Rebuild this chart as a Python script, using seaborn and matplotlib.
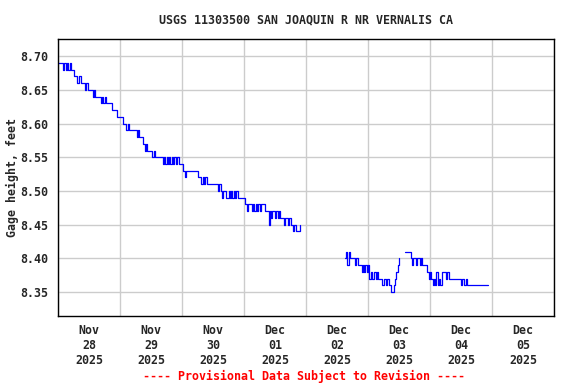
import pandas as pd
import matplotlib
matplotlib.use("Agg")
import matplotlib.pyplot as plt
import matplotlib.dates as mdates
import seaborn as sns

# --- Daten (Gage height in hundredths above 8.00 ft, 30-min steps) ---
title = "USGS 11303500 SAN JOAQUIN R NR VERNALIS CA"
note = "---- Provisional Data Subject to Revision ----"

seg1_start = "2025-11-28 00:00"
seg1_vals = [69, 69, 69, 69,
             68, 69, 68, 69, 68, 69,
             68, 68,
             67, 67, 67, 66, 67, 67, 66,
             66, 66, 65, 66,
             65, 65, 65, 65, 64, 65, 64,
             64, 64, 64, 63, 64, 63, 64, 63,
             63, 63, 63, 63,
             62, 62, 62, 62,
             61, 61, 61, 61, 60,
             60, 60, 59, 60, 59,
             59, 59, 59, 59, 59,
             58, 59, 58, 58, 58,
             57, 56, 57,
             56, 56, 56,
             56, 55, 56, 55, 55, 55, 55, 55,
             55, 54, 55, 54, 55, 54, 55, 54, 55, 54, 55, 54, 55, 55,
             54, 54, 54,
             53, 52, 53, 53,
             53, 53, 53, 53, 53, 53, 53,
             52, 52, 52, 51, 52, 51, 52, 51, 51, 51,
             51, 51, 51, 51, 51, 51,
             50, 51, 50, 49, 50, 50, 49,
             49, 50, 49, 50, 49, 50, 49, 50, 49, 49,
             49, 49, 49, 49,
             48, 47, 48, 48, 48,
             47, 48, 47, 48, 47, 48, 47, 48,
             48, 48,
             47, 47, 47, 45,
             47, 46, 47, 47, 46, 47, 46, 47, 46,
             46, 46, 45, 46, 46, 45, 46,
             45, 45,
             44, 45, 44, 44, 44,
             45]

seg2_start = "2025-12-02 15:00"
seg2_vals = [40, 41, 39, 41, 40,
             40, 40, 40,
             39, 40, 39,
             39, 39,
             38, 39, 38,
             39, 38, 39,
             37, 38, 37, 37,
             38, 37, 38, 37,
             37, 37, 36, 37, 37,
             36, 37, 36,
             36, 35, 35, 36,
             37, 38, 39, 40]

seg3_start = "2025-12-03 14:30"
seg3_vals = [41, 41, 41, 41,
             40, 39, 40,
             40, 39, 40, 40, 39, 40,
             39, 39, 39, 39,
             38, 37, 38, 37,
             36, 37, 36, 38, 36, 37, 36, 38,
             38, 38, 37, 38, 38,
             37, 37, 37, 37, 37, 37, 37, 37, 37,
             36, 37, 36, 36,
             37,
             36, 36, 36, 36, 36, 36, 36, 36, 36, 36, 36, 36, 36, 36, 36, 36, 36]

y_ticks = [8.35, 8.40, 8.45, 8.50, 8.55, 8.60, 8.65, 8.70]

# --- Tabelle aufbauen ---
parts = []
for n, (start, vals) in enumerate([(seg1_start, seg1_vals),
                                   (seg2_start, seg2_vals),
                                   (seg3_start, seg3_vals)]):
    t = pd.date_range(start, periods=len(vals), freq="30min")
    parts.append(pd.DataFrame({"time": t,
                               "gage": [8 + v / 100 for v in vals],
                               "piece": n}))
df = pd.concat(parts, ignore_index=True)

# --- Diagramm ---
sns.set_style("white")
plt.rcParams["font.family"] = ["DejaVu Sans Mono"]
plt.rcParams["font.weight"] = "bold"

fig = plt.figure(figsize=(5.76, 3.84), dpi=100)
ax = fig.add_axes([58 / 576, 1 - 316 / 384, 496 / 576, 277 / 384])

sns.lineplot(data=df, x="time", y="gage", units="piece", estimator=None,
             color="#0000ff", lw=0.9, drawstyle="steps-post", ax=ax)

ax.set_xlim(pd.Timestamp("2025-11-28"), pd.Timestamp("2025-12-06"))
ax.set_ylim(8.3148, 8.7252)

# Labels mittags, Gitter um Mitternacht
ax.xaxis.set_major_locator(mdates.HourLocator(byhour=[12]))
ax.xaxis.set_major_formatter(mdates.DateFormatter("%b\n%d\n%Y"))
ax.xaxis.set_minor_locator(mdates.DayLocator())
ax.set_yticks(y_ticks)
ax.set_yticklabels([f"{v:.2f}" for v in y_ticks])

ax.grid(False)
ax.grid(which="minor", axis="x", color="#cccccc", lw=1)
ax.grid(which="major", axis="y", color="#cccccc", lw=1)
ax.tick_params(which="both", length=0, labelsize=8.4)
ax.tick_params(axis="x", pad=6)
ax.tick_params(axis="y", pad=7)

for s in ax.spines.values():
    s.set_color("black")
    s.set_linewidth(1)
    s.set_visible(True)

ax.set_xlabel("")
ax.set_ylabel("Gage height, feet", fontsize=8.4, fontweight="bold", labelpad=1)

fig.text(306 / 576, 1 - 20 / 384, title, ha="center", va="center",
         fontsize=8.4, fontweight="bold")
fig.text(304 / 576, 1 - 376 / 384, note, ha="center", va="center",
         fontsize=8.4, fontweight="bold", color="red")

fig.savefig("out.png", dpi=100)
